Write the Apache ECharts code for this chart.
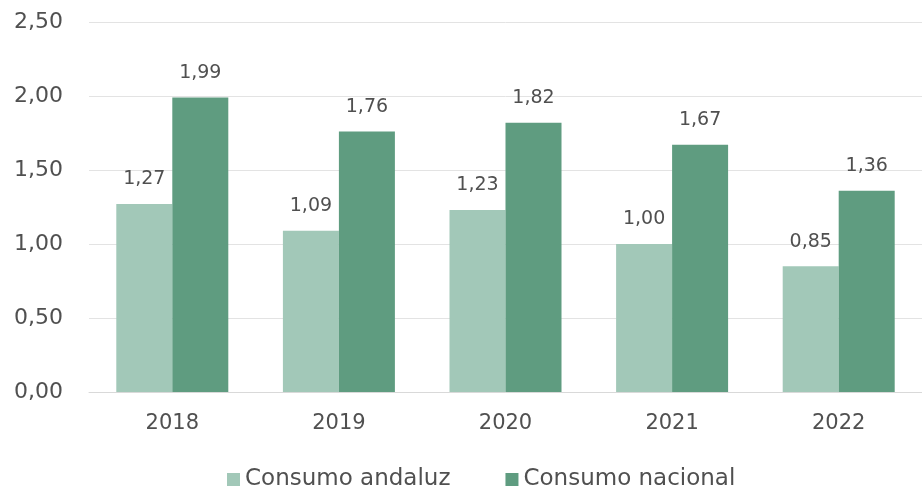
<!DOCTYPE html>
<html><head><meta charset="utf-8">
<script src="https://cdn.jsdelivr.net/npm/echarts@6/dist/echarts.min.js"></script>
<style>html,body{margin:0;padding:0;background:#fff;}#c{width:922px;height:487px;}</style>
</head><body><div id="c"></div>
<script>
const categories = ['2018','2019','2020','2021','2022'];
const andaluz = [1.27, 1.09, 1.23, 1.00, 0.85];
const nacional = [1.99, 1.76, 1.82, 1.67, 1.36];
const seriesNames = ['Consumo andaluz', 'Consumo nacional'];
const fmt = v => Number(v).toFixed(2).replace('.', ',');
const font = "'DejaVu Sans', sans-serif";
const txt = '#505050';
const chart = echarts.init(document.getElementById('c'));
chart.setOption({
  animation: false,
  textStyle: { fontFamily: font },
  grid: { left: 89, top: 22, width: 839, height: 370 },
  legend: {
    top: 463, left: 222, itemWidth: 13, itemHeight: 13, itemGap: 55,
    icon: 'rect',
    textStyle: { fontSize: 23, color: txt, fontFamily: font },
    data: seriesNames
  },
  xAxis: {
    type: 'category', data: categories,
    axisLine: { lineStyle: { color: '#d9d9d9' } },
    axisTick: { show: false },
    axisLabel: { fontSize: 21, color: txt, margin: 21 }
  },
  yAxis: {
    type: 'value', min: 0, max: 2.5, interval: 0.5,
    axisLabel: { fontSize: 22, color: txt, margin: 26, formatter: fmt },
    splitLine: { lineStyle: { color: '#e3e3e3' } },
    axisLine: { show: false }
  },
  series: [
    { name: seriesNames[0], type: 'bar', data: andaluz, barWidth: 56, barGap: '0%',
      itemStyle: { color: '#a2c8b8' },
      label: { show: true, position: 'top', distance: 15, fontSize: 19, color: txt, formatter: p => fmt(p.value) } },
    { name: seriesNames[1], type: 'bar', data: nacional, barWidth: 56,
      itemStyle: { color: '#5f9c80' },
      label: { show: true, position: 'top', distance: 15, fontSize: 19, color: txt, formatter: p => fmt(p.value) } }
  ]
});
</script></body></html>
